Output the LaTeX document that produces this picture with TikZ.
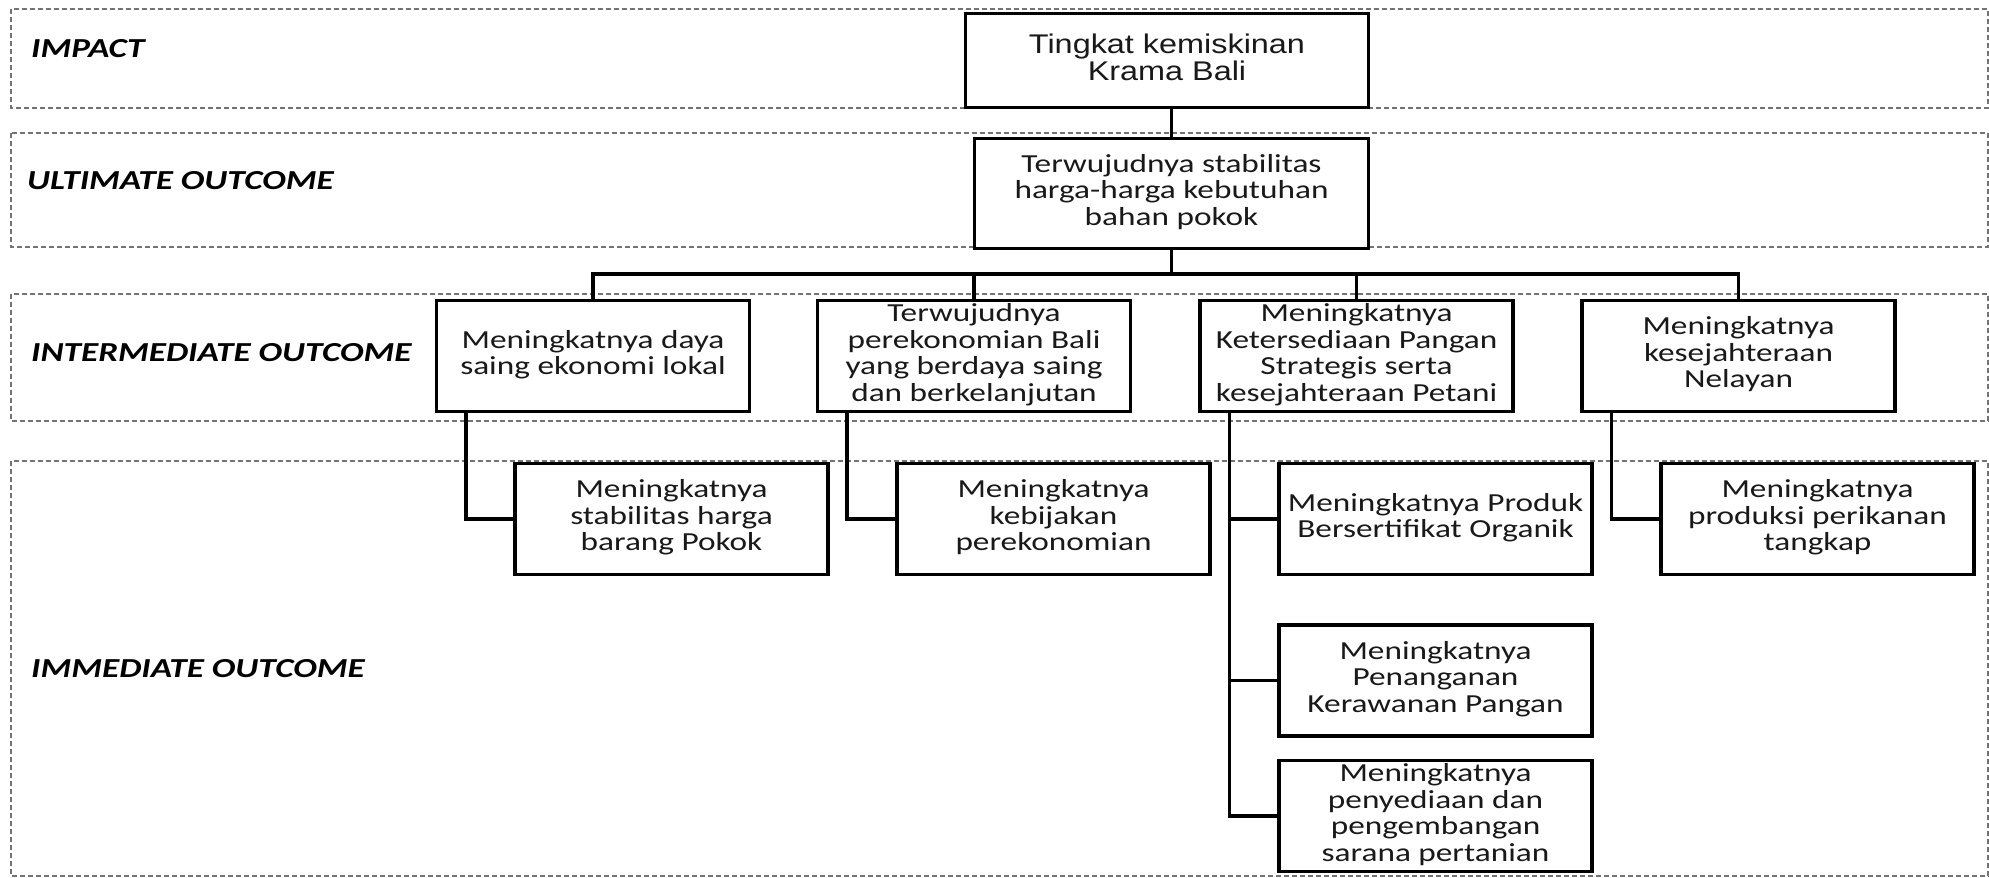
\documentclass[tikz,border=0pt]{standalone}
\usepackage{fontspec}
\usepackage{graphicx}
\setmainfont{Carlito}
\newfontfamily\arialfont{Liberation Sans}
% stretched, centred multi-line text
\newcommand{\widetext}[2][1.28]{\scalebox{#1}[1]{\begin{tabular}{@{}c@{}}#2\end{tabular}}}
\tikzset{
  band/.style={draw=black!55, line width=1.1pt, dash pattern=on 5pt off 3pt},
  lbl/.style={anchor=west, inner sep=0pt, font=\fontsize{27.5}{27.5}\selectfont\bfseries\itshape},
  box/.style={draw=black, line width=3.4pt, fill=white, minimum width=313pt,
    minimum height=111pt, inner sep=0pt, text=black!90,
    font=\fontsize{26}{26.5}\selectfont},
  conn/.style={draw=black, line width=3.4pt},
}
\begin{document}
\begin{tikzpicture}[x=1pt, y=-1pt]
\useasboundingbox (0,0) rectangle (1989,878);

% horizontal bands
\draw[band] (11,9) rectangle (1988,108);
\draw[band] (11,133) rectangle (1988,247);
\draw[band] (11,294) rectangle (1988,421);
\draw[band] (11,461) rectangle (1988,876);

% band labels
\node[lbl] (limp) at (31,52) {\widetext{IMPACT}};
\node[lbl] (lult) at (27,184) {\widetext{ULTIMATE OUTCOME}};
\node[lbl] (lint) at (31,356) {\widetext{INTERMEDIATE OUTCOME}};
\node[lbl] (limm) at (31,672) {\widetext{IMMEDIATE OUTCOME}};

% impact and ultimate outcome
\node[box, minimum width=403pt, minimum height=94pt, font=\arialfont\fontsize{27}{25}\selectfont] (imp) at (1167,60.5)
  {\widetext[1.2]{Tingkat kemiskinan\\Krama Bali}};
\node[box, minimum width=394pt, minimum height=110pt] (ult) at (1171.5,193.5)
  {\widetext{Terwujudnya stabilitas\\harga-harga kebutuhan\\bahan pokok}};

% intermediate outcomes
\node[box] (i1) at (593,356) {\widetext{Meningkatnya daya\\saing ekonomi lokal}};
\node[box] (i2) at (974,356) {\widetext{Terwujudnya\\perekonomian Bali\\yang berdaya saing\\dan berkelanjutan}};
\node[box] (i3) at (1356.5,356) {\widetext{Meningkatnya\\Ketersediaan Pangan\\Strategis serta\\kesejahteraan Petani}};
\node[box] (i4) at (1738.5,356) {\widetext{Meningkatnya\\kesejahteraan\\Nelayan}};

% immediate outcomes
\node[box] (m1) at (671.5,519) {\widetext{Meningkatnya\\stabilitas harga\\barang Pokok}};
\node[box] (m2) at (1053.5,519) {\widetext{Meningkatnya\\kebijakan\\perekonomian}};
\node[box] (m3) at (1435.5,519) {\widetext{Meningkatnya Produk\\Bersertifikat Organik}};
\node[box] (m4) at (1817.5,519) {\widetext{Meningkatnya\\produksi perikanan\\tangkap}};
\node[box] (m5) at (1435.5,680.5) {\widetext{Meningkatnya\\Penanganan\\Kerawanan Pangan}};
\node[box] (m6) at (1435.5,816) {\widetext{Meningkatnya\\penyediaan dan\\pengembangan\\sarana pertanian}};

% connectors
\coordinate (bus) at (1171.5,274);
\draw[conn] (ult.north) -- (ult.north |- imp.south);
\draw[conn] (ult.south) -- (bus);
\draw[conn] (i1.north) |- (bus) -| (i4.north);
\draw[conn] (i2.north) -- (i2.north |- bus);
\draw[conn] (i3.north) -- (i3.north |- bus);

\draw[conn] ([xshift=31pt]i1.south west) |- (m1.west);
\draw[conn] ([xshift=31pt]i2.south west) |- (m2.west);
\draw[conn] ([xshift=31pt]i4.south west) |- (m4.west);
\draw[conn] ([xshift=31pt]i3.south west) |- (m6.west);
\draw[conn] ([xshift=31pt]i3.south west) |- (m3.west);
\draw[conn] ([xshift=31pt]i3.south west) |- (m5.west);
\end{tikzpicture}
\end{document}
